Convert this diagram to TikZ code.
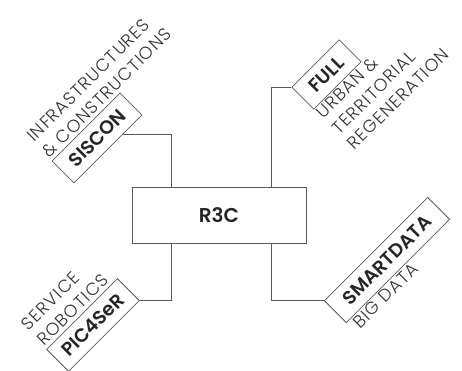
\documentclass[tikz,border=0pt]{standalone}
\usepackage{fontspec}
\setmainfont{Poppins}
\newfontfamily\lightfont{Poppins Light}[LetterSpace=6]
\newfontfamily\semifont{Poppins SemiBold}
\usetikzlibrary{calc,positioning}

\begin{document}
\begin{tikzpicture}[
  x=1pt,y=1pt,
  every node/.style={text=black!85},
  hub/.style={draw=black!65,line width=0.8pt,minimum width=174pt,
              minimum height=56pt,inner sep=0pt,
              font=\semifont\fontsize{20}{20}\selectfont},
  unit/.style={draw=black!65,line width=0.8pt,rotate=45,minimum height=31pt,
               inner sep=0pt,font=\semifont\fontsize{19}{19}\selectfont},
  tag/.style={anchor=base west,inner sep=0pt,text=black!80,
              font=\lightfont\fontsize{17.5}{17.5}\selectfont},
  link/.style={draw=black!65,line width=0.8pt}
]
\useasboundingbox (0,0) rectangle (462,371);

\node[hub] (r3c) at (219,156) {R3C};

\node[unit,minimum width=96pt]  (siscon) at (97,233)    {SISCON};
\node[unit,minimum width=67pt]  (full)   at (326.5,296.5) {FULL};
\node[unit,minimum width=100pt] (pic)    at (93,46)     {PIC4SeR};
\node[unit,minimum width=146pt] (smart)  at (387,111)   {SMARTDATA};

\begin{scope}[shift={(siscon)},rotate=45,transform shape]
  \node[tag] (siscon1) at (-48,41) {INFRASTRUCTURES};
  \node[tag] (siscon2) at (-48,19) {\& CONSTRUCTIONS};
\end{scope}
\begin{scope}[shift={(full)},rotate=45,transform shape]
  \node[tag] (full1) at (-34,-30) {URBAN \&};
  \node[tag] (full2) at (-34,-52) {TERRITORIAL};
  \node[tag] (full3) at (-34,-74) {REGENERATION};
\end{scope}
\begin{scope}[shift={(pic)},rotate=45,transform shape]
  \node[tag] (pic1) at (-50,41) {SERVICE};
  \node[tag] (pic2) at (-50,19) {ROBOTICS};
\end{scope}
\begin{scope}[shift={(smart)},rotate=45,transform shape]
  \node[tag] (smart1) at (-68,-30) {BIG DATA};
\end{scope}

\coordinate (tl) at ($(r3c.north west)!0.23!(r3c.north east)$);
\coordinate (tr) at ($(r3c.north west)!0.80!(r3c.north east)$);
\coordinate (bl) at ($(r3c.south west)!0.23!(r3c.south east)$);
\coordinate (br) at ($(r3c.south west)!0.80!(r3c.south east)$);
\coordinate (sisconhit) at ($(siscon.south west)!0.72!(siscon.south east)$);

\draw[link] (tl) |- (sisconhit);
\draw[link] (tr) |- (full.north west);
\draw[link] (bl) |- (pic.south east);
\draw[link] (br) |- (smart.north west);
\end{tikzpicture}
\end{document}
